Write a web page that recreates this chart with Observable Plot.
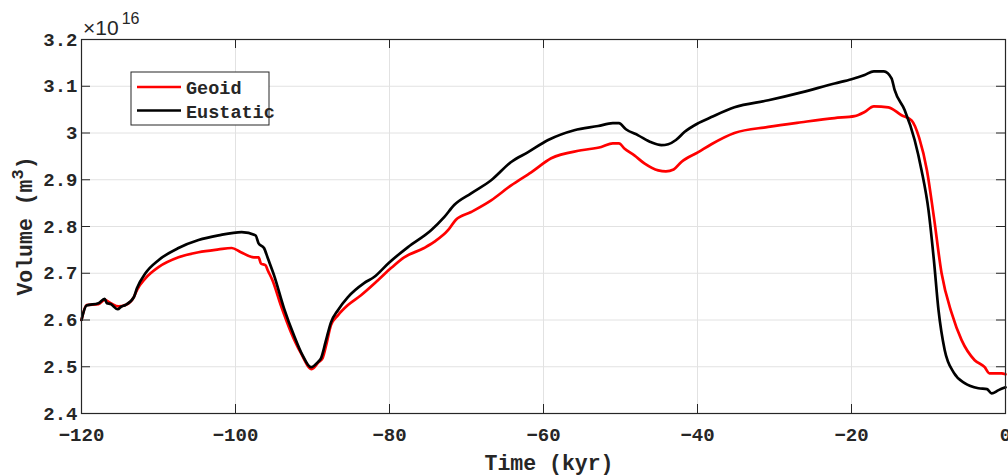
<!DOCTYPE html>
<html><head><meta charset="utf-8">
<script src="https://cdn.jsdelivr.net/npm/d3@7"></script>
<script src="https://cdn.jsdelivr.net/npm/@observablehq/plot@0.6"></script>
<style>body{margin:0;background:#fff}#chart{width:1008px;height:475px}</style>
</head><body><div id="chart"></div>
<script>
// Volume in units of 1e16 m^3, time in kyr
const timeGeoid = [-120,-119.35,-117.8,-117.0,-116.2,-115.2,-114.3,-113.2,-112.8,-111.7,-110.0,-107.4,-104.8,-102.2,-100.5,-99.3,-97.6,-97.0,-96.7,-96.1,-95.8,-95.2,-94.1,-92.8,-91.5,-90.1,-89.2,-88.7,-88.2,-87.6,-86.7,-85.4,-83.7,-81.5,-79.8,-78.1,-75.5,-74.2,-72.4,-71.4,-69.4,-66.8,-64.2,-61.6,-59.0,-55.1,-52.5,-51.0,-50.2,-49.5,-48.2,-46.9,-45.1,-44.1,-43.1,-42.1,-39.9,-38.2,-35.2,-30.8,-26.5,-22.2,-19.6,-18.3,-17.1,-15.2,-13.5,-12.2,-11.2,-10.2,-9.3,-8.3,-7.0,-5.7,-4.0,-2.7,-2.1,-0.5,0];
const volGeoid = [2.600,2.632,2.634,2.643,2.636,2.629,2.632,2.649,2.664,2.689,2.713,2.734,2.745,2.751,2.754,2.745,2.734,2.734,2.721,2.717,2.706,2.685,2.631,2.574,2.529,2.495,2.510,2.518,2.548,2.589,2.610,2.632,2.653,2.685,2.711,2.734,2.754,2.767,2.792,2.814,2.831,2.856,2.888,2.916,2.946,2.963,2.970,2.978,2.978,2.967,2.952,2.935,2.920,2.918,2.922,2.938,2.959,2.976,3.000,3.013,3.023,3.032,3.036,3.045,3.057,3.055,3.038,3.027,2.989,2.920,2.820,2.700,2.615,2.557,2.514,2.499,2.486,2.486,2.484];
const timeEustatic = [-120,-119.35,-117.8,-117.0,-116.7,-116.2,-115.3,-114.8,-114.3,-113.2,-112.8,-111.7,-110.0,-107.4,-104.8,-102.2,-99.2,-97.4,-97.0,-96.3,-95.8,-95.0,-93.7,-92.4,-91.3,-90.2,-89.3,-88.9,-88.3,-87.6,-86.7,-85.4,-83.3,-82.0,-80.1,-77.6,-74.6,-72.9,-71.6,-69.4,-66.8,-64.2,-62.0,-59.4,-56.0,-52.9,-51.0,-50.2,-49.3,-47.7,-46.0,-44.7,-43.8,-42.8,-41.7,-39.9,-38.2,-35.2,-30.8,-26.5,-22.2,-20.0,-18.3,-17.1,-15.8,-14.8,-14.4,-13.1,-11.8,-10.9,-10.0,-9.3,-8.7,-7.9,-6.7,-5.3,-3.5,-2.4,-1.8,-0.9,0];
const volEustatic = [2.600,2.631,2.636,2.645,2.636,2.634,2.623,2.629,2.632,2.649,2.668,2.700,2.728,2.754,2.771,2.781,2.788,2.781,2.764,2.754,2.732,2.696,2.625,2.567,2.525,2.499,2.510,2.518,2.553,2.595,2.621,2.649,2.679,2.692,2.722,2.756,2.792,2.820,2.846,2.871,2.899,2.938,2.959,2.985,3.006,3.015,3.021,3.021,3.008,2.995,2.980,2.974,2.976,2.985,3.002,3.021,3.034,3.055,3.070,3.087,3.106,3.115,3.124,3.132,3.132,3.117,3.092,3.049,2.985,2.920,2.835,2.728,2.621,2.536,2.487,2.465,2.454,2.452,2.443,2.450,2.456];
const seriesNames = ["Geoid", "Eustatic"];
const seriesColors = ["#ff0000", "#000000"];
const xTicks = [-120,-100,-80,-60,-40,-20,0];
const yTicks = [2.4,2.5,2.6,2.7,2.8,2.9,3.0,3.1,3.2];

const geoid = timeGeoid.map((t,i)=>({t, v: volGeoid[i]}));
const eustatic = timeEustatic.map((t,i)=>({t, v: volEustatic[i]}));

const W=1008, H=475, mL=81, mR=3, mT=39, mB=62;
const innerW=W-mL-mR, innerH=H-mT-mB, tickLen=9;
const ink="#262626", gridC="#e2e2e2";
const mono='"Liberation Mono","Courier New",monospace';

const svg = Plot.plot({
  width: W, height: H,
  marginLeft: mL, marginRight: mR, marginTop: mT, marginBottom: mB,
  style: {fontFamily: mono, fontWeight: "bold", fontSize: "19px", color: ink, background: "#fff", overflow: "visible"},
  x: {domain: [-120, 0]},
  y: {domain: [2.4, 3.2]},
  marks: [
    Plot.gridX(xTicks, {stroke: gridC, strokeOpacity: 1}),
    Plot.gridY(yTicks, {stroke: gridC, strokeOpacity: 1}),
    Plot.line(geoid, {x: "t", y: "v", stroke: seriesColors[0], strokeWidth: 2.7, curve: "monotone-x"}),
    Plot.line(eustatic, {x: "t", y: "v", stroke: seriesColors[1], strokeWidth: 2.7, curve: "monotone-x"}),
    Plot.frame({stroke: ink, strokeWidth: 1.2}),
    Plot.ruleX(xTicks, {stroke: ink, insetTop: innerH - tickLen}),
    Plot.ruleX(xTicks, {stroke: ink, insetBottom: innerH - tickLen}),
    Plot.ruleY(yTicks, {stroke: ink, insetRight: innerW - tickLen}),
    Plot.ruleY(yTicks, {stroke: ink, insetLeft: innerW - tickLen}),
    Plot.axisX(xTicks, {tickSize: 0, tickPadding: 14, label: null, fill: ink}),
    Plot.axisY(yTicks, {tickSize: 0, tickPadding: 4, label: null, fill: ink, tickFormat: d => `${+d.toFixed(1)}`})
  ]
});
document.getElementById("chart").append(svg);

const s = d3.select(svg);
// x label
s.append("text").attr("x", 549).attr("y", 470).attr("text-anchor","middle")
  .attr("font-family", mono).attr("font-weight","bold").attr("font-size", 21.5).attr("fill", ink)
  .text("Time (kyr)");
// y label with superscript
const yl = s.append("text").attr("transform","translate(32,226) rotate(-90)").attr("text-anchor","middle")
  .attr("font-family", mono).attr("font-weight","bold").attr("font-size", 21.5).attr("fill", ink);
yl.append("tspan").text("Volume (m");
yl.append("tspan").attr("dy", -9).attr("font-size", 17).text("3");
yl.append("tspan").attr("dy", 9).text(")");
// exponent
const ex = s.append("text").attr("x", 83).attr("y", 35).attr("text-anchor","start")
  .attr("font-family",'"Liberation Sans",Arial,sans-serif').attr("font-weight","normal")
  .attr("font-size", 21).attr("fill", ink);
ex.append("tspan").text("×10");
ex.append("tspan").attr("dy", -11).attr("dx", 3).attr("font-size", 16).text("16");
// legend
const lg = s.append("g");
lg.append("rect").attr("x",131).attr("y",72).attr("width",138).attr("height",53)
  .attr("fill","#fff").attr("stroke",ink).attr("stroke-width",1);
seriesNames.forEach((name,i)=>{
  const yy = 87 + i*23.5;
  lg.append("line").attr("x1",137).attr("x2",181).attr("y1",yy).attr("y2",yy)
    .attr("stroke",seriesColors[i]).attr("stroke-width",2.7);
  lg.append("text").attr("x",186).attr("y",yy+7).attr("text-anchor","start")
    .attr("font-family",mono).attr("font-weight","bold")
    .attr("font-size",18.5).attr("fill",ink).text(name);
});
</script>
</body></html>
